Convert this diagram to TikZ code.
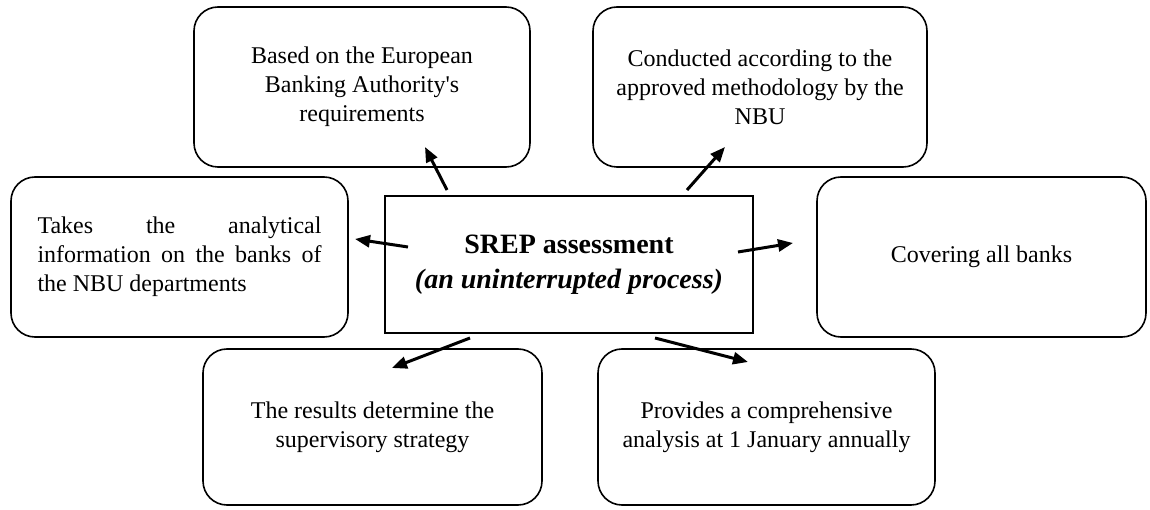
\documentclass[tikz,border=0pt]{standalone}
\usepackage{fontspec}
\setmainfont{Liberation Serif}
\usetikzlibrary{arrows.meta}

\begin{document}
\begin{tikzpicture}[
  x=1pt, y=-1pt,
  every node/.style={font=\fontsize{24}{29}\selectfont},
  box/.style={draw, line width=1.6pt, rounded corners=24pt, minimum height=160pt, align=center},
  core/.style={draw, line width=1.3pt, minimum width=368pt, minimum height=137pt, align=center, font=\fontsize{28}{35}\selectfont},
  link/.style={line width=3pt, -{Triangle[length=15pt,width=12pt]}}
]
\useasboundingbox (0,0) rectangle (1150,510);

\node[core] (srep) at (569,264.5) {\textbf{SREP assessment}\\\textbf{\textit{(an uninterrupted process)}}};

\node[box, minimum width=336pt] (eba) at (362,87) {Based on the European\\Banking Authority\textquotesingle s\\requirements};
\node[box, minimum width=334pt] (method) at (760,87) {Conducted according to the\\approved methodology by the\\NBU};
% justified paragraph, spaces stretched by hand
\node[box, minimum width=337pt, align=left] (info) at (179.5,257)
  {\makebox[284pt]{Takes\hfill the\hfill analytical}\\
   \makebox[284pt]{information\hfill on\hfill the\hfill banks\hfill of}\\
   the NBU departments};
\node[box, minimum width=329pt] (cover) at (981.5,257) {Covering all banks};
\node[box, minimum width=339pt, minimum height=156pt] (result) at (372.5,427) {The results determine the\\supervisory strategy};
\node[box, minimum width=337pt, minimum height=156pt] (annual) at (766.5,427) {Provides a comprehensive\\analysis at 1 January annually};

\coordinate (a1) at (447,190);  \coordinate (b1) at (425,147);
\coordinate (a2) at (687,190);  \coordinate (b2) at (725,147);
\coordinate (a3) at (408,247);  \coordinate (b3) at (355,239);
\coordinate (a4) at (738,252);  \coordinate (b4) at (793,243);
\coordinate (a5) at (470,338);  \coordinate (b5) at (392,368);
\coordinate (a6) at (655,338);  \coordinate (b6) at (748,362);

\foreach \i in {1,...,6}
  \draw[link] (a\i) -- (b\i);
\end{tikzpicture}
\end{document}
